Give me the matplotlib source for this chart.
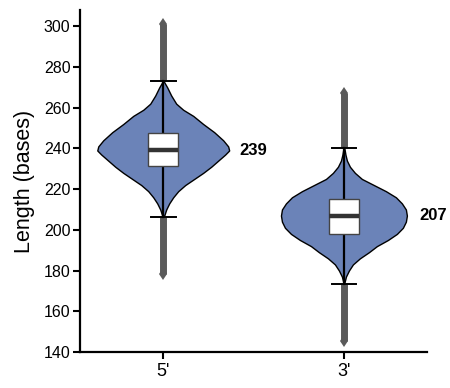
import numpy as np
import matplotlib
matplotlib.use("Agg")
import matplotlib.pyplot as plt

plt.rcParams["font.family"] = ["Liberation Sans", "DejaVu Sans"]

# ── Data ──────────────────────────────────────────────────────────────────────
groups = ["5'", "3'"]
medians = [239, 207]
q1 = [231.4, 197.9]
q3 = [247.8, 215.1]
whisk_lo = [206.1, 173.4]
whisk_hi = [273.0, 240.0]
# centre of the pointed end of the outlier strip
outlier_lo = [178.2, 145.5]
outlier_hi = [301.0, 267.3]

# violin outline: length grid and relative half-width (peak of 5' = 1)
len_5 = [273, 270, 266, 262, 259, 256, 252, 248, 244, 241, 239, 237,
         234, 231, 228, 225, 222, 219, 216, 213, 210, 207]
dens_5 = [0.5, 4, 8, 13, 20, 30, 40, 51, 60, 65, 66, 62,
          55, 48, 40, 31, 22, 15, 10, 6, 3, 1]
len_3 = [240, 237, 234, 231, 228, 225, 222, 219, 216, 213, 210, 207,
         204, 201, 198, 195, 192, 189, 186, 183, 180, 177, 174]
dens_3 = [0.5, 1.5, 3, 6, 11, 18, 30, 42, 52, 58, 62, 63,
          62, 59, 53, 44, 33, 25, 16, 9, 5, 2, 0.5]
profiles = [(len_5, dens_5), (len_3, dens_3)]

# ── Style ─────────────────────────────────────────────────────────────────────
VIOLIN_FC = "#6b83b8"
STRIP_C = "#5a5a5a"
MAX_HALF = 0.365      # half-width of the widest violin, in x units
BOX_HALF = 0.083
CAP_HALF = 0.068

fig = plt.figure(figsize=(4.5, 3.88), dpi=100)
ax = fig.add_axes([0.178, 0.093, 0.771, 0.881])

peak = max(max(d) for _, d in profiles)
for i, (lens, dens) in enumerate(profiles):
    y = np.array(lens, dtype=float)
    w = np.array(dens, dtype=float) / peak * MAX_HALF
    ax.fill_betweenx(y, i - w, i + w, facecolor=VIOLIN_FC, edgecolor="black",
                     linewidth=1.0, zorder=2)

    # outlier strips (dense gray points)
    for a, b in [(whisk_hi[i], outlier_hi[i]), (whisk_lo[i], outlier_lo[i])]:
        ax.plot([i, i], [a, b], color=STRIP_C, lw=5, solid_capstyle="butt",
                zorder=3)
        ax.plot([i], [b], marker="d", ms=6, color=STRIP_C, mew=0, zorder=3)

    # whisker + caps
    ax.plot([i, i], [whisk_lo[i], whisk_hi[i]], color="black", lw=1.6, zorder=4)
    for yy in (whisk_lo[i], whisk_hi[i]):
        ax.plot([i - CAP_HALF, i + CAP_HALF], [yy, yy], color="black",
                lw=1.4, zorder=4)

    # box
    ax.add_patch(plt.Rectangle((i - BOX_HALF, q1[i]), 2 * BOX_HALF,
                               q3[i] - q1[i], facecolor="white",
                               edgecolor="#444444", lw=1.0, zorder=5))
    ax.plot([i - BOX_HALF, i + BOX_HALF], [medians[i], medians[i]],
            color="#333333", lw=3.2, solid_capstyle="butt", zorder=6)

    ax.text(i + 0.42, medians[i], f"{medians[i]}", ha="left", va="center",
            fontsize=12, fontweight="bold", clip_on=False,
            family=["Liberation Sans Narrow", "Liberation Sans"])

ax.set_xlim(-0.46, 1.46)
ax.set_ylim(140, 308)
ax.set_yticks(range(140, 301, 20))
ax.set_xticks(range(len(groups)))
ax.set_xticklabels(groups, fontsize=13)
ax.tick_params(axis="y", labelsize=11.5, width=1.5, length=5, pad=2)
ax.tick_params(axis="x", width=1.5, length=5, pad=3)
ax.set_ylabel("Length (bases)", fontsize=15.5, labelpad=6)

for side in ("top", "right"):
    ax.spines[side].set_visible(False)
for side in ("left", "bottom"):
    ax.spines[side].set_linewidth(1.6)

fig.savefig("out.png", dpi=100)
